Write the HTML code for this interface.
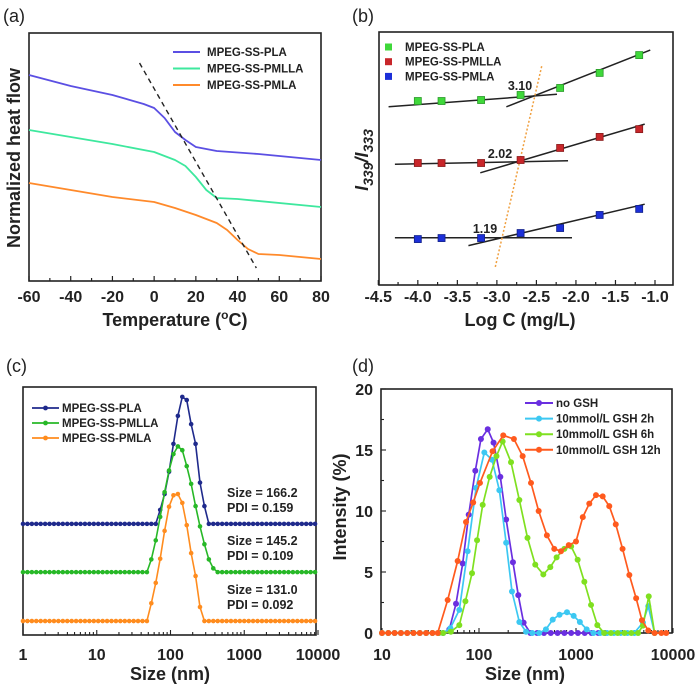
<!DOCTYPE html>
<html><head><meta charset="utf-8"><style>
html,body{margin:0;padding:0;background:#fff;}
svg{display:block;font-family:"Liberation Sans",Arial,sans-serif;}
.tk{font-size:16px;font-weight:bold;fill:#222;}
.tt{font-size:18px;font-weight:bold;fill:#222;}
.pl{font-size:18px;fill:#222;}
.lg{font-size:11.5px;font-weight:bold;fill:#222;}
.an{font-size:12.5px;font-weight:bold;fill:#222;}
</style></head><body>
<svg id="fig" width="700" height="685" viewBox="0 0 700 685" xmlns="http://www.w3.org/2000/svg"></svg>
<script>
// ---------- Panel (a) data ----------
const aPlaT=[-60,-40,-20,-5,0,5,10,15,20,30,50,80];
const aPlaV=[206,195,186,177,173,163,149,141,134,130,127,121];
const aPmllaT=[-60,-40,-20,0,10,15,20,25,30,40,80];
const aPmllaV=[151,144,137,129,121,115,104,91,83,82,74];
const aPmlaT=[-60,-40,-20,0,10,20,30,35,40,45,50,60,80];
const aPmlaV=[98,91,84,79,73,66,58,51,41,32,27,26,22];
const aDashT=[-7,49];
const aDashV=[218,13];
const aTicks=[-60,-40,-20,0,20,40,60,80];
// ---------- Panel (b) data ----------
const bLogC=[-4,-3.7,-3.2,-2.7,-2.2,-1.7,-1.2];
const bPla=[7.33,7.33,7.37,7.57,7.85,8.45,9.16];
const bPmlla=[4.86,4.86,4.86,4.98,5.46,5.9,6.21];
const bPmla=[1.83,1.87,1.87,2.07,2.27,2.79,3.03];
const bFitX=[[-4.37,-2.24],[-2.88,-1.06],[-4.29,-2.10],[-3.21,-1.13],[-4.29,-2.05],[-3.36,-1.13]];
const bFitY=[[7.10,7.60],[7.10,9.36],[4.81,4.95],[4.47,6.41],[1.88,1.88],[1.57,3.22]];
const bCmcX=[-3.02,-2.43];
const bCmcY=[0.72,8.76];
const bCmcLabels=["3.10","2.02","1.19"];
const bTicks=[-4.5,-4.0,-3.5,-3.0,-2.5,-2.0,-1.5,-1.0];
// ---------- Panel (c) data ----------
const cLogSize=[0,0.06,0.12,0.18,0.24,0.3,0.36,0.42,0.48,0.54,0.6,0.66,0.72,0.78,0.84,0.9,0.96,1.02,1.08,1.14,1.2,1.26,1.32,1.38,1.44,1.5,1.56,1.62,1.68,1.74,1.8,1.86,1.92,1.98,2.04,2.1,2.16,2.22,2.28,2.34,2.4,2.46,2.52,2.58,2.64,2.7,2.76,2.82,2.88,2.94,3.0,3.06,3.12,3.18,3.24,3.3,3.36,3.42,3.48,3.54,3.6,3.66,3.72,3.78,3.84,3.9,3.96];
const cPla=[0,0,0,0,0,0,0,0,0,0,0,0,0,0,0,0,0,0,0,0,0,0,0,0,0,0,0,0,0,0,0,2.2,4.7,8.2,12.6,17,20,19.5,15.7,12.6,6.5,2.8,0,0,0,0,0,0,0,0,0,0,0,0,0,0,0,0,0,0,0,0,0,0,0,0,0];
const cPmlla=[0,0,0,0,0,0,0,0,0,0,0,0,0,0,0,0,0,0,0,0,0,0,0,0,0,0,0,0,0,2,5,8.7,12.6,16,18.6,19.8,19.2,16.7,13.9,10.4,7.2,4.4,2,0.6,0,0,0,0,0,0,0,0,0,0,0,0,0,0,0,0,0,0,0,0,0,0,0];
const cPmla=[0,0,0,0,0,0,0,0,0,0,0,0,0,0,0,0,0,0,0,0,0,0,0,0,0,0,0,0,0,2.8,6,9.8,14.2,18,19.8,20,18.6,15.1,10.7,7.1,2.2,0,0,0,0,0,0,0,0,0,0,0,0,0,0,0,0,0,0,0,0,0,0,0,0,0,0];
const cOffsets=[17.5,9.9,2.2];
const cSizeLabels=["Size = 166.2","Size = 145.2","Size = 131.0"];
const cPdiLabels=["PDI = 0.159","PDI = 0.109","PDI = 0.092"];
const cTicks=[1,10,100,1000,10000];
// ---------- Panel (d) data ----------
const dNoX=[1.0,1.065,1.13,1.195,1.26,1.325,1.39,1.455,1.52,1.585,1.63,1.694,1.763,1.832,1.894,1.962,2.02,2.09,2.15,2.22,2.28,2.35,2.405,2.46,2.53,2.6,2.67,2.74,2.81,2.88,2.95,3.02,3.09,3.16,3.23,3.3];
const dNoY=[0,0,0,0,0,0,0,0,0,0,0,0.3,2.4,5.7,9.7,13.3,15.9,16.7,15.6,12.8,9.3,5.8,3.1,0.85,0,0,0,0,0,0,0,0,0,0,0,0];
const d2hX=[1.0,1.065,1.13,1.195,1.26,1.325,1.39,1.455,1.52,1.585,1.63,1.705,1.797,1.883,1.97,2.055,2.134,2.21,2.28,2.34,2.416,2.485,2.55,2.62,2.69,2.76,2.83,2.907,2.976,3.04,3.11,3.18,3.25,3.32,3.39,3.46,3.53,3.6,3.69,3.745,3.81];
const d2hY=[0,0,0,0,0,0,0,0,0,0,0,0.4,1.9,6.7,11.9,14.8,14.2,11.7,7.4,3.4,0.9,0.1,0,0,0.3,1.1,1.5,1.7,1.4,0.9,0.3,0,0,0,0,0,0,0,0.85,2.2,0];
const d6hX=[1.0,1.065,1.13,1.195,1.26,1.325,1.39,1.455,1.52,1.585,1.63,1.71,1.797,1.86,1.928,1.98,2.038,2.11,2.18,2.244,2.33,2.416,2.5,2.58,2.663,2.735,2.8,2.88,2.95,3.017,3.086,3.155,3.22,3.29,3.36,3.43,3.5,3.57,3.64,3.69,3.75,3.81];
const d6hY=[0,0,0,0,0,0,0,0,0,0,0,0.1,0.65,2.6,4.9,7.6,10.5,12.8,14.5,15.7,14.0,10.9,7.8,5.6,4.8,5.4,6.2,6.9,7.1,6.0,4.2,2.3,0.65,0,0,0,0,0,0,0.6,3.0,0];
const d12hX=[1.0,1.065,1.13,1.195,1.26,1.325,1.39,1.455,1.52,1.574,1.677,1.78,1.866,1.94,2.01,2.14,2.25,2.36,2.45,2.536,2.615,2.7,2.776,2.845,2.925,3.0,3.07,3.137,3.206,3.275,3.343,3.41,3.48,3.55,3.62,3.68,3.745,3.81,3.88,3.93];
const d12hY=[0,0,0,0,0,0,0,0,0,0,2.7,5.9,9.1,10.7,12.3,14.9,16.2,15.9,14.5,12.3,10.0,8.0,6.9,6.7,7.2,7.5,9.5,10.6,11.3,11.2,10.4,8.9,6.9,4.75,2.85,1.05,0.2,0,0,0];
const dXTicks=[10,100,1000,10000];
const dYTicks=[0,5,10,15,20];

const NS="http://www.w3.org/2000/svg";
const svg=document.getElementById('fig');
function mk(tag,attrs,parent){const e=document.createElementNS(NS,tag);for(const k in attrs)e.setAttribute(k,attrs[k]);(parent||svg).appendChild(e);return e;}
function txt(s,attrs,parent){const e=mk('text',attrs,parent);e.textContent=s;return e;}
function lin(d0,d1,r0,r1){return v=>r0+(v-d0)/(d1-d0)*(r1-r0);}
function pathD(xs,ys,fx,fy){return xs.map((x,i)=>(i?'L':'M')+fx(x).toFixed(2)+' '+fy(ys[i]).toFixed(2)).join(' ');}
function box(x0,y0,x1,y1,g){const r=mk('rect',{x:x0,y:y0,width:x1-x0,height:y1-y0,fill:'none',stroke:'#222','stroke-width':1.6},g);}

// ================= Panel (a) =================
(function(){
 const g=mk('g',{});
 
 
 const X0=29,X1=321,Y0=33,Y1=281;
 const fx=lin(-60,80,X0,X1), fy=lin(0,248,Y1,Y0);
 const pl=txt('(a)',{x:3,y:22,class:'pl'},g);
 
 box(X0,Y0,X1,Y1,g);
 for(let t=-60;t<=80;t+=10){const maj=aTicks.includes(t);const l=mk('line',{x1:fx(t),x2:fx(t),y1:Y1,y2:Y1-(maj?5:3),stroke:'#222','stroke-width':1.2},g);}
 aTicks.forEach(t=>{const e=txt(String(t),{x:fx(t),y:302,'text-anchor':'middle',class:'tk'},g);});
 const xt=txt('',{x:175,y:326,'text-anchor':'middle',class:'tt'},g);
 
 xt.innerHTML='Temperature (<tspan dy="-7" font-size="12">o</tspan><tspan dy="7">C)</tspan>';
 const yt=txt('Normalized heat flow',{x:0,y:0,'text-anchor':'middle',class:'tt',transform:'translate(20,158) rotate(-90)'},g);
 
 const ser=[[aPlaT,aPlaV,'#5b4fe3','MPEG-SS-PLA'],[aPmllaT,aPmllaV,'#3ee89e','MPEG-SS-PMLLA'],[aPmlaT,aPmlaV,'#ff8a2b','MPEG-SS-PMLA']];
 ser.forEach((s,i)=>{
  const p=mk('path',{d:pathD(s[0],s[1],fx,fy),fill:'none',stroke:s[2],'stroke-width':1.8,'stroke-linejoin':'round'},g);
  
  const ly=52+i*16.5;
  const ll=mk('line',{x1:173,x2:200,y1:ly,y2:ly,stroke:s[2],'stroke-width':2},g);
  
  const lt=txt(s[3],{x:207,y:ly+4,class:'lg'},g);
  
 });
 const d=mk('path',{d:pathD(aDashT,aDashV,fx,fy),stroke:'#222','stroke-width':1.4,'stroke-dasharray':'5,4',fill:'none'},g);
 
})();

// ================= Panel (b) =================
(function(){
 const g=mk('g',{});
 
 
 const X0=379,X1=673,Y0=32,Y1=285;
 const fx=lin(-4.5,-1.0,378.3,655), fy=lin(0,10,Y1,Y1-251);
 const pl=txt('(b)',{x:352,y:22,class:'pl'},g);
 
 box(X0,Y0,X1,Y1,g);
 for(let t=-4.5;t<=-0.99;t+=0.25){const maj=Math.abs(t*2-Math.round(t*2))<1e-6;const l=mk('line',{x1:fx(t),x2:fx(t),y1:Y1,y2:Y1-(maj?5:3),stroke:'#222','stroke-width':1.2},g);}
 bTicks.forEach(t=>{const e=txt(t.toFixed(1),{x:fx(t),y:302,'text-anchor':'middle',class:'tk'},g);});
 const xt=txt('Log C (mg/L)',{x:520,y:326,'text-anchor':'middle',class:'tt'},g);
 
 const yt=txt('',{x:0,y:0,'text-anchor':'middle',class:'tt','font-style':'italic',transform:'translate(368,160) rotate(-90)'},g);
 
 yt.innerHTML='I<tspan dy="5" font-size="14">339</tspan><tspan dy="-5">/I</tspan><tspan dy="5" font-size="14">333</tspan>';
 for(let i=0;i<bFitX.length;i++){const l=mk('path',{d:pathD(bFitX[i],bFitY[i],fx,fy),stroke:'#222','stroke-width':1.5,fill:'none'},g);}
 const cm=mk('path',{d:pathD(bCmcX,bCmcY,fx,fy),stroke:'#f0a040','stroke-width':1.5,'stroke-dasharray':'2,2',fill:'none'},g);
 
 const ser=[[bPla,'#3fd83a','#2a9a2a','MPEG-SS-PLA'],[bPmlla,'#c8262a','#8a1a1a','MPEG-SS-PMLLA'],[bPmla,'#1c2fd8','#10208a','MPEG-SS-PMLA']];
 ser.forEach((s,i)=>{
  bLogC.forEach((x,j)=>{const r=mk('rect',{x:fx(x)-3.5,y:fy(s[0][j])-3.5,width:7,height:7,fill:s[1],stroke:s[2],'stroke-width':0.8},g);});
  const ly=47+i*14.7;
  const m=mk('rect',{x:385,y:ly-3.5,width:7,height:7,fill:s[1]},g);
  
  const lt=txt(s[3],{x:405,y:ly+4,class:'lg'},g);
  
 });
 const lp=[[520,90],[500,158],[485,233]];
 bCmcLabels.forEach((s,i)=>{const e=txt(s,{x:lp[i][0],y:lp[i][1],'text-anchor':'middle',class:'an','font-size':'14px'},g);});
})();

function logTicks(g,fx,dmin,dmax,Y1){
 for(let e=dmin;e<dmax;e++){for(let k=1;k<10;k++){const v=Math.pow(10,e)*k;const x=fx(Math.log10(v));const l=mk('line',{x1:x,x2:x,y1:Y1,y2:Y1-(k==1?5:3),stroke:'#222','stroke-width':1.1},g);}}
 const x=fx(dmax);const l=mk('line',{x1:x,x2:x,y1:Y1,y2:Y1-5,stroke:'#222','stroke-width':1.1},g);
}

// ================= Panel (c) =================
(function(){
 const g=mk('g',{});
 
 
 const X0=23,X1=316,Y0=387,Y1=635;
 const fx=lin(0,4,23,318), fy=lin(0,39,Y1,Y1-39*6.35);
 const pl=txt('(c)',{x:6,y:372,class:'pl'},g);
 
 box(X0,Y0,X1,Y1,g);
 logTicks(g,fx,0,4,Y1);
 cTicks.forEach(t=>{const e=txt(String(t),{x:fx(Math.log10(t)),y:660,'text-anchor':'middle',class:'tk'},g);});
 const xt=txt('Size (nm)',{x:170,y:680,'text-anchor':'middle',class:'tt'},g);
 
 const ser=[[cPla,'#1f2a8c','MPEG-SS-PLA'],[cPmlla,'#27b827','MPEG-SS-PMLLA'],[cPmla,'#ff8c1e','MPEG-SS-PMLA']];
 ser.forEach((s,i)=>{
  const ys=s[0].map(v=>v+cOffsets[i]);
  const p=mk('path',{d:pathD(cLogSize,ys,fx,fy),fill:'none',stroke:s[1],'stroke-width':1.6},g);
  
  cLogSize.forEach((x,j)=>{const c=mk('circle',{cx:fx(x),cy:fy(ys[j]),r:2.3,fill:s[1]},g);});
  const ly=408+i*15;
  const ll=mk('line',{x1:32,x2:59,y1:ly,y2:ly,stroke:s[1],'stroke-width':1.8},g);
  
  const lm=mk('circle',{cx:45.5,cy:ly,r:2.4,fill:s[1]},g);
  
  const lt=txt(s[2],{x:62,y:ly+4,class:'lg'},g);
  
  const baseY=fy(cOffsets[i]);
  const a1=txt(cSizeLabels[i],{x:227,y:baseY-27,class:'an'},g);
  
  const a2=txt(cPdiLabels[i],{x:227,y:baseY-12,class:'an'},g);
  
 });
 const yt=txt('Intensity (%)',{x:0,y:0,'text-anchor':'middle',class:'tt',transform:'translate(346,507) rotate(-90)'},g);
 
})();

// ================= Panel (d) =================
(function(){
 const g=mk('g',{});
 
 
 const X0=381,X1=672,Y0=389,Y1=633;
 const fx=lin(1,4,382,673), fy=lin(0,20,Y1,Y0);
 const pl=txt('(d)',{x:352,y:372,class:'pl'},g);
 
 box(X0,Y0,X1,Y1,g);
 logTicks(g,fx,1,4,Y1);
 for(let v=0;v<=20;v+=2.5){const maj=v%5===0;const l=mk('line',{x1:X0,x2:X0+(maj?5:3),y1:fy(v),y2:fy(v),stroke:'#222','stroke-width':1.1},g);}
 dYTicks.forEach(v=>{const e=txt(String(v),{x:373,y:fy(v)+6,'text-anchor':'end',class:'tk'},g);});
 dXTicks.forEach(t=>{const e=txt(String(t),{x:fx(Math.log10(t)),y:660,'text-anchor':'middle',class:'tk'},g);});
 const xt=txt('Size (nm)',{x:525,y:680,'text-anchor':'middle',class:'tt'},g);
 
 const ser=[[dNoX,dNoY,'#6a2fe0','no GSH'],[d2hX,d2hY,'#3cc8f2','10mmol/L GSH 2h'],[d6hX,d6hY,'#7fe020','10mmol/L GSH 6h'],[d12hX,d12hY,'#ff5a1e','10mmol/L GSH 12h']];
 ser.forEach((s,i)=>{
  const p=mk('path',{d:pathD(s[0],s[1],fx,fy),fill:'none',stroke:s[2],'stroke-width':1.7},g);
  
  s[0].forEach((x,j)=>{const c=mk('circle',{cx:fx(x),cy:fy(s[1][j]),r:3,fill:s[2]},g);});
  const ly=403+i*15.6;
  const ll=mk('line',{x1:525,x2:553,y1:ly,y2:ly,stroke:s[2],'stroke-width':2},g);
  
  const lm=mk('circle',{cx:539,cy:ly,r:3,fill:s[2]},g);
  
  const lt=txt(s[3],{x:556,y:ly+4,class:'lg'},g);
  
 });
})();
</script>
</body></html>
